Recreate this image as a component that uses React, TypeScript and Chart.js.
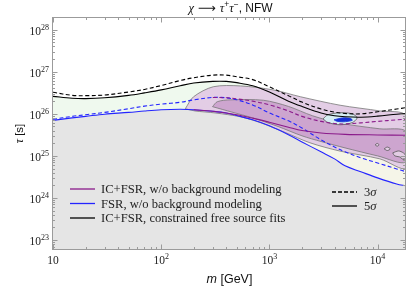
import React, { useEffect, useRef } from "react";
import { Chart, registerables } from "chart.js";
Chart.register(...registerables);

// ---------- axis ranges & ticks ----------
const X_MIN = 10;
const X_MAX = 18300;
const Y_MIN = 5.8e22;
const Y_MAX = 2.0e28;
const xTickValues = [10, 100, 1000, 10000];
const xTickExps = ["", "2", "3", "4"];
const yTickValues = [1e23, 1e24, 1e25, 1e26, 1e27, 1e28];
const yTickExps = ["23", "24", "25", "26", "27", "28"];

// ---------- curves on a common mass grid (GeV) ----------
const massGrid = [10, 15, 20, 30, 50, 70, 100, 150, 200, 300, 400, 500, 700, 1000, 1500, 2000, 3000, 4000, 5000, 7000, 10000, 15000, 18300];
// IC+FSR constrained free source fits
const tauConstrained3s = [3.25e26, 2.75e26, 2.7e26, 2.8e26, 3.3e26, 3.8e26, 4.7e26, 6.2e26, 7.2e26, 8.3e26, 8.3e26, 7.6e26, 6.5e26, 4.4e26, 2.7e26, 1.9e26, 1.3e26, 1.1e26, 1.02e26, 1.0e26, 1.12e26, 1.3e26, 1.4e26];
const tauConstrained5s = [2.6e26, 2.35e26, 2.3e26, 2.4e26, 2.75e26, 3.15e26, 3.7e26, 4.65e26, 5.4e26, 5.9e26, 5.9e26, 5.5e26, 4.65e26, 3.3e26, 2.0e26, 1.5e26, 1.05e26, 9.0e25, 8.5e25, 8.3e25, 8.8e25, 9.8e25, 1.02e26];
// FSR, w/o background modeling
const tauFSR3s = [7.4e25, 8.7e25, 9.5e25, 1.08e26, 1.32e26, 1.52e26, 1.7e26, 1.88e26, 2.15e26, 2.45e26, 2.4e26, 2.15e26, 1.63e26, 1.05e26, 6.8e25, 4.6e25, 2.4e25, 1.63e25, 1.25e25, 9.0e24, 6.8e24, 4.9e24, 4.2e24];
const tauFSR5s = [7.0e25, 8.0e25, 8.7e25, 9.8e25, 1.08e26, 1.17e26, 1.25e26, 1.28e26, 1.25e26, 1.15e26, 1.05e26, 9.1e25, 7.2e25, 5.2e25, 3.2e25, 2.15e25, 1.25e25, 8.5e24, 5.8e24, 4.2e24, 3.0e24, 2.15e24, 1.93e24];

// IC+FSR, w/o background modeling (lines)
const massICFSR3s = [300, 400, 500, 700, 1000, 1500, 2000, 3000, 4000, 5000, 7000, 10000, 15000, 18300];
const tauICFSR3s = [2.45e26, 2.4e26, 2.27e26, 2.0e26, 1.63e26, 1.17e26, 8.7e25, 6.6e25, 5.9e25, 5.75e25, 6.1e25, 6.6e25, 7.2e25, 7.4e25];
const massICFSR5s = [200, 300, 500, 700, 1000, 1500, 2000, 3000, 5000, 10000, 18300];
const tauICFSR5s = [1.25e26, 1.15e26, 9.5e25, 7.9e25, 6.3e25, 4.8e25, 4.0e25, 3.5e25, 3.25e25, 3.15e25, 3.1e25];

// signal regions (closed contours)
const outerMass = [167, 199, 303, 540, 1087, 1930, 4500, 10500, 18300, 18300, 10500, 4500, 2370, 1400, 820, 540, 315, 205, 167];
const outerTau = [1.32e26, 2.54e26, 4.4e26, 4.6e26, 3.7e26, 2.55e26, 1.6e26, 1.17e26, 9.0e25, 5.2e24, 8.5e24, 1.3e25, 2.05e25, 3.6e25, 6.2e25, 8.5e25, 1.05e26, 1.17e26, 1.32e26];
const innerMass = [298, 330, 436, 880, 1500, 2500, 4500, 10500, 18300, 18300, 10000, 5000, 3000, 2000, 1200, 700, 450, 298];
const innerTau = [1.48e26, 1.94e26, 2.15e26, 2.1e26, 1.5e26, 9.0e25, 6.0e25, 4.4e25, 3.8e25, 7.2e24, 1.0e25, 1.55e25, 2.2e25, 3.0e25, 5.0e25, 8.0e25, 1.1e26, 1.48e26];
const island1Mass = [9500, 9900, 10300, 9900, 9500];
const island1Tau = [1.83e25, 1.98e25, 1.83e25, 1.7e25, 1.83e25];
const island2Mass = [11500, 12300, 13100, 12300, 11500];
const island2Tau = [1.47e25, 1.62e25, 1.47e25, 1.34e25, 1.47e25];
const island3Mass = [13800, 15600, 17300, 18300, 18300, 16900, 15900, 14400, 13800];
const island3Tau = [1.18e25, 1.31e25, 1.18e25, 1.0e25, 8.0e24, 8.5e24, 9.5e24, 1.0e25, 1.18e25];
const bestFitMass = [3130, 3480, 4510, 5830, 6470, 5830, 4510, 3480, 3130];
const bestFitTau = [7.6e25, 9.5e25, 1.06e26, 1.0e26, 8.0e25, 6.2e25, 5.5e25, 6.2e25, 7.6e25];
const coreMass = [3960, 4700, 5580, 5830, 4800, 4180, 3960];
const coreTau = [7.2e25, 8.0e25, 7.8e25, 7.0e25, 6.45e25, 6.7e25, 7.2e25];

const C_PURPLE = "#8a1a8a";
const C_BLUE = "#2424ff";
const SERIF = '"Liberation Serif", "DejaVu Serif", serif';
const SANS = '"Liberation Sans", "DejaVu Sans", sans-serif';

const pts = (xs: number[], ys: number[]) => xs.map((x, i) => ({ x, y: ys[i] }));

type Seg = { t: string; f: string; dy?: number };
function drawSegs(ctx: CanvasRenderingContext2D, segs: Seg[], x: number, y: number, align: "left" | "center" | "right") {
  ctx.textAlign = "left";
  let total = 0;
  const widths = segs.map((s) => {
    ctx.font = s.f;
    const w = ctx.measureText(s.t).width;
    total += w;
    return w;
  });
  let cx = align === "left" ? x : align === "center" ? x - total / 2 : x - total;
  segs.forEach((s, i) => {
    ctx.font = s.f;
    ctx.fillText(s.t, cx, y + (s.dy || 0));
    cx += widths[i];
  });
}

const decorPlugin = {
  id: "decor",
  afterDatasetsDraw(chart: any) {
    const { ctx, chartArea: a, scales } = chart;
    const xs = scales.x;
    const ys = scales.y;
    ctx.save();
    // frame
    ctx.strokeStyle = "#9b9b9b";
    ctx.lineWidth = 1;
    const L = Math.round(a.left) - 0.5;
    const R = Math.round(a.right) - 0.5;
    const T = Math.round(a.top) + 0.5;
    const B = Math.round(a.bottom) - 0.5;
    ctx.strokeRect(L, T, R - L, B - T);
    // ticks
    ctx.beginPath();
    for (let d = 1; d <= 4; d++) {
      for (let k = 1; k <= 9; k++) {
        const v = k * Math.pow(10, d);
        if (v < X_MIN || v > X_MAX) continue;
        const p = Math.round(xs.getPixelForValue(v)) + 0.5;
        const len = k === 1 ? 5 : 2.5;
        ctx.moveTo(p, B); ctx.lineTo(p, B - len);
        ctx.moveTo(p, T); ctx.lineTo(p, T + len);
      }
    }
    for (let d = 22; d <= 28; d++) {
      for (let k = 1; k <= 9; k++) {
        const v = k * Math.pow(10, d);
        if (v < Y_MIN || v > Y_MAX) continue;
        const p = Math.round(ys.getPixelForValue(v)) + 0.5;
        const len = k === 1 ? 5 : 2.5;
        ctx.moveTo(L, p); ctx.lineTo(L + len, p);
        ctx.moveTo(R, p); ctx.lineTo(R - len, p);
      }
    }
    ctx.stroke();

    ctx.fillStyle = "#222";
    ctx.textBaseline = "alphabetic";
    // x tick labels
    xTickValues.forEach((v, i) => {
      const p = xs.getPixelForValue(v);
      const segs: Seg[] = [{ t: "10", f: `11.5px ${SERIF}` }];
      if (xTickExps[i]) segs.push({ t: xTickExps[i], f: `8px ${SERIF}`, dy: -5 });
      drawSegs(ctx, segs, p, 264, "center");
    });
    // y tick labels
    yTickValues.forEach((v, i) => {
      const p = ys.getPixelForValue(v);
      drawSegs(ctx, [{ t: "10", f: `11.5px ${SERIF}` }, { t: yTickExps[i], f: `8px ${SERIF}`, dy: -5 }], 49, p + 5, "right");
    });
    // title
    ctx.fillStyle = "#111";
    drawSegs(ctx, [
      { t: "χ", f: `italic 12.5px ${SERIF}` },
      { t: " ⟶ ", f: `12.5px "DejaVu Sans", ${SANS}` },
      { t: "τ", f: `italic 12.5px ${SERIF}` },
      { t: "+", f: `8.5px ${SANS}`, dy: -5 },
      { t: "τ", f: `italic 12.5px ${SERIF}` },
      { t: "−", f: `8.5px ${SANS}`, dy: -5 },
      { t: ", NFW", f: `12px ${SANS}` },
    ], (a.left + a.right) / 2 + 1, 12, "center");
    // x axis title
    drawSegs(ctx, [
      { t: "m", f: `italic 12.5px ${SANS}` },
      { t: " [GeV]", f: `12.5px ${SANS}` },
    ], (a.left + a.right) / 2, 283, "center");
    // y axis title
    ctx.save();
    ctx.translate(23, (a.top + a.bottom) / 2);
    ctx.rotate(-Math.PI / 2);
    drawSegs(ctx, [
      { t: "τ", f: `italic 12px ${SERIF}` },
      { t: " [s]", f: `11.5px ${SANS}` },
    ], 0, 0, "center");
    ctx.restore();

    // legend
    const rows = [
      { c: C_PURPLE, t: "IC+FSR, w/o background modeling", y: 189 },
      { c: C_BLUE, t: "FSR, w/o background modeling", y: 203.5 },
      { c: "#000", t: "IC+FSR, constrained free source fits", y: 218 },
    ];
    rows.forEach((r) => {
      ctx.strokeStyle = r.c;
      ctx.lineWidth = 1.3;
      ctx.setLineDash([]);
      ctx.beginPath();
      ctx.moveTo(70, r.y); ctx.lineTo(95, r.y);
      ctx.stroke();
      ctx.fillStyle = "#222";
      ctx.font = `12.6px ${SERIF}`;
      ctx.textAlign = "left";
      ctx.fillText(r.t, 101, r.y + 4);
    });
    const sig = [
      { d: [4, 2], t: "3", y: 192 },
      { d: [], t: "5", y: 206 },
    ];
    sig.forEach((s) => {
      ctx.strokeStyle = "#000";
      ctx.lineWidth = 1.3;
      ctx.setLineDash(s.d);
      ctx.beginPath();
      ctx.moveTo(332, s.y); ctx.lineTo(357, s.y);
      ctx.stroke();
      ctx.setLineDash([]);
      ctx.fillStyle = "#222";
      drawSegs(ctx, [{ t: s.t, f: `12.6px ${SERIF}` }, { t: "σ", f: `italic 12.6px ${SERIF}` }], 364, s.y + 4, "left");
    });
    ctx.restore();
  },
};

export default function App() {
  const ref = useRef<HTMLCanvasElement | null>(null);
  useEffect(() => {
    if (!ref.current) return;
    const base = { pointRadius: 0, pointHoverRadius: 0, tension: 0.35 };
    const region = (xs: number[], ys: number[], bg: string, border: string, order: number, bw = 0.8) => ({
      ...base,
      data: pts(xs, ys),
      fill: "shape",
      backgroundColor: bg,
      borderColor: border,
      borderWidth: bw,
      tension: 0.3,
      order,
    });
    const line = (xs: number[], ys: number[], color: string, dash: number[], order: number) => ({
      ...base,
      data: pts(xs, ys),
      fill: false,
      borderColor: color,
      borderWidth: 1.1,
      borderDash: dash,
      order,
    });
    const chart = new Chart(ref.current, {
      type: "line",
      data: {
        datasets: [
          { ...base, data: pts(massGrid, tauConstrained5s), fill: "start", backgroundColor: "#eff9ee", borderWidth: 0, order: 30 },
          { ...base, data: pts(outerMass.slice(9, 19).reverse(), outerTau.slice(9, 19).reverse()), fill: "start", backgroundColor: "#f5f5e8", borderWidth: 0, order: 29 },
          { ...base, data: pts(massGrid, tauFSR5s), fill: "start", backgroundColor: "#e5e5e5", borderWidth: 0, order: 28 },
          region(outerMass, outerTau, "#e3cde5", "#777777", 20),
          region(innerMass, innerTau, "#cda5cf", "#777777", 19),
          region(island1Mass, island1Tau, "#e3cde5", "#555555", 18),
          region(island2Mass, island2Tau, "#e3cde5", "#555555", 18),
          region(island3Mass, island3Tau, "#e3cde5", "#555555", 18),
          region(bestFitMass, bestFitTau, "#d6eef3", "#555555", 17),
          region(coreMass, coreTau, "#1530d8", "#1530d8", 16),
          line(massGrid, tauFSR3s, C_BLUE, [4, 2.5], 6),
          line(massGrid, tauFSR5s, C_BLUE, [], 5),
          line(massICFSR3s, tauICFSR3s, C_PURPLE, [4, 2.5], 4),
          line(massICFSR5s, tauICFSR5s, C_PURPLE, [], 3),
          line(massGrid, tauConstrained3s, "#000", [4, 2.5], 2),
          line(massGrid, tauConstrained5s, "#000", [], 1),
        ] as any,
      },
      options: {
        animation: false,
        responsive: false,
        events: [],
        layout: { padding: { left: 53, right: 9, top: 17, bottom: 36 } },
        scales: {
          x: { type: "logarithmic", min: X_MIN, max: X_MAX, display: false },
          y: { type: "logarithmic", min: Y_MIN, max: Y_MAX, display: false },
        },
        plugins: { legend: { display: false }, tooltip: { enabled: false }, title: { display: false } },
      } as any,
      plugins: [decorPlugin],
    });
    return () => chart.destroy();
  }, []);
  return (
    <div style={{ position: "fixed", left: 0, top: 0, width: 415, height: 286, background: "#fff" }}>
      <canvas ref={ref} width={415} height={286} style={{ display: "block" }} />
    </div>
  );
}
